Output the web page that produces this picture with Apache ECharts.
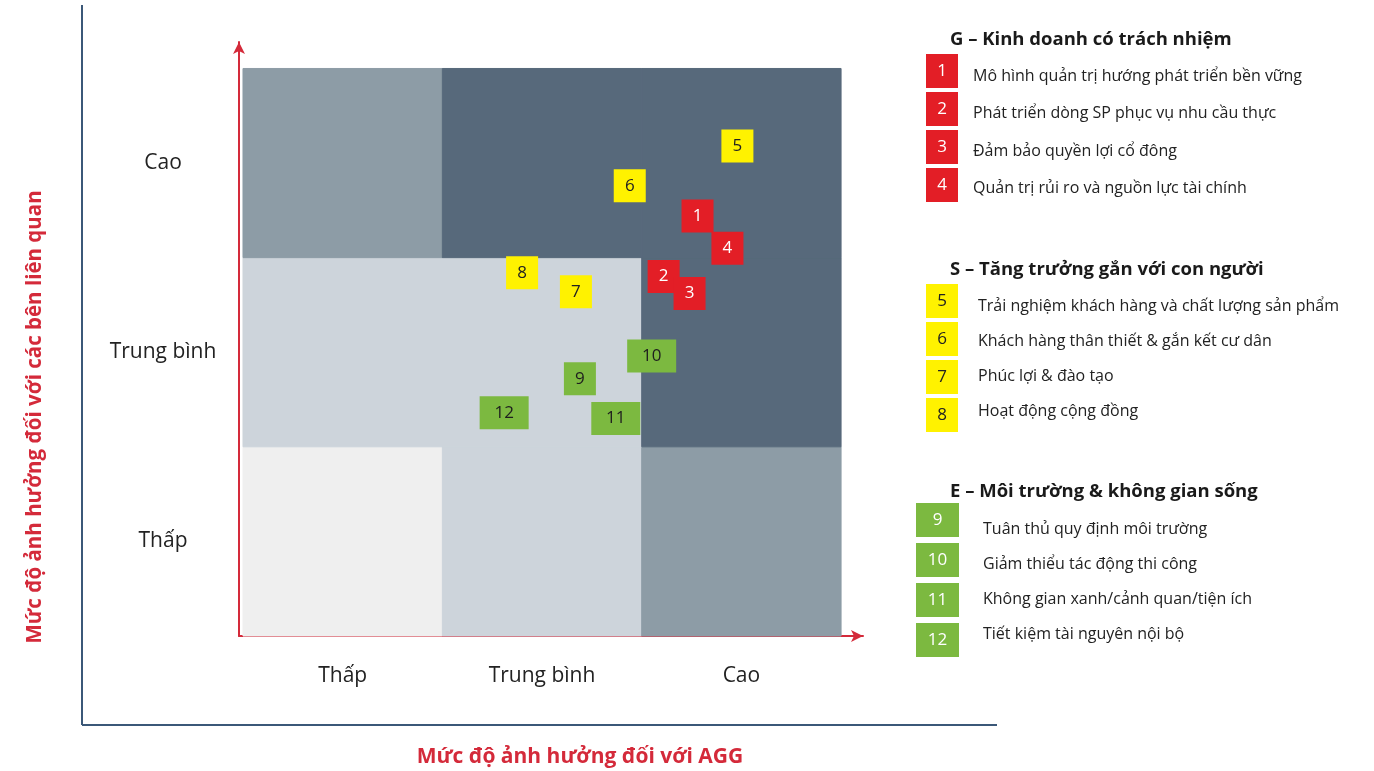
<!DOCTYPE html>
<html>
<head>
<meta charset="utf-8">
<script src="https://cdn.jsdelivr.net/npm/echarts@6/dist/echarts.min.js"></script>
<style>
html,body{margin:0;padding:0;background:#fff;}
#c{width:1374px;height:771px;}
</style>
</head>
<body>
<div id="c"></div>
<script>
// ---- data ----
const levelLabels = ['Thấp', 'Trung bình', 'Cao'];
const xTitle = 'Mức độ ảnh hưởng đối với AGG';
const yTitle = 'Mức độ ảnh hưởng đối với các bên liên quan';
const groupTitles = ['G – Kinh doanh có trách nhiệm', 'S – Tăng trưởng gắn với con người', 'E – Môi trường & không gian sống'];
const itemIds = ['1','2','3','4','5','6','7','8','9','10','11','12'];
const itemNames = [
  'Mô hình quản trị hướng phát triển bền vững',
  'Phát triển dòng SP phục vụ nhu cầu thực',
  'Đảm bảo quyền lợi cổ đông',
  'Quản trị rủi ro và nguồn lực tài chính',
  'Trải nghiệm khách hàng và chất lượng sản phẩm',
  'Khách hàng thân thiết & gắn kết cư dân',
  'Phúc lợi & đào tạo',
  'Hoạt động cộng đồng',
  'Tuân thủ quy định môi trường',
  'Giảm thiểu tác động thi công',
  'Không gian xanh/cảnh quan/tiện ích',
  'Tiết kiệm tài nguyên nội bộ'
];
const itemGroup = [0,0,0,0,1,1,1,1,2,2,2,2];
// impact on AGG (x) and on stakeholders (y), scale 0..3
const impactAGG = [2.28, 2.11, 2.24, 2.43, 2.48, 1.94, 1.67, 1.40, 1.69, 2.05, 1.87, 1.31];
const impactStake = [2.22, 1.90, 1.81, 2.05, 2.59, 2.38, 1.82, 1.92, 1.36, 1.48, 1.15, 1.18];
// zone level per cell: rows from bottom (stakeholder low->high), cols AGG low->high
const zoneLevel = [
  [0, 1, 2],
  [1, 1, 3],
  [2, 3, 3]
];

// ---- styles ----
const zoneColors = ['#efefef', '#cdd4db', '#8d9ca6', '#57697b'];
const groupColors = ['#e31e26', '#fff200', '#7cb940'];
const boxTextColorPlot = ['#ffffff', '#222222', '#1e1e1e'];
const boxTextColorLegend = ['#ffffff', '#222222', '#ffffff'];
const red = '#d42a3a';
const FONT = '"Open Sans", "Noto Sans", sans-serif';

const chart = echarts.init(document.getElementById('c'));

const areas = [];
for (let r = 0; r < 3; r++) {
  for (let c = 0; c < 3; c++) {
    const col = zoneColors[zoneLevel[r][c]];
    areas.push([
      { xAxis: c, yAxis: r, itemStyle: { color: col, borderColor: col, borderWidth: 1, opacity: 1 } },
      { xAxis: c + 1, yAxis: r + 1 }
    ]);
  }
}

const points = itemIds.map((id, i) => ({
  value: [impactAGG[i], impactStake[i]],
  name: id,
  symbolSize: id.length > 1 ? [49, 33] : [32, 33],
  itemStyle: { color: groupColors[itemGroup[i]], opacity: 1 },
  label: { color: boxTextColorPlot[itemGroup[i]] }
}));

// ---- legend graphics ----
const headerY = [40, 270, 492];
const firstBoxY = [71, 301, 520];
const boxStep = [38, 38, 40];
const firstTextY = [76, 306, 529];
const textStep = [37.5, 35, 35];
const boxX = [926, 926, 916];
const boxW = [32, 32, 43];
const textX = [973, 978, 983];
const graphics = [];
groupTitles.forEach((t, g) => {
  graphics.push({
    type: 'text', x: 950, y: headerY[g],
    style: { text: t, font: 'bold 18.5px ' + FONT, fill: '#1a1a1a', verticalAlign: 'middle' }
  });
});
const rowIdx = [0, 0, 0];
itemIds.forEach((id, i) => {
  const g = itemGroup[i];
  const k = rowIdx[g]++;
  const cy = firstBoxY[g] + k * boxStep[g];
  graphics.push({
    type: 'rect', shape: { x: boxX[g], y: cy - 17, width: boxW[g], height: 34 },
    style: { fill: groupColors[g] }
  });
  graphics.push({
    type: 'text', x: boxX[g] + boxW[g] / 2, y: cy,
    style: { text: id, font: '500 17px ' + FONT, fill: boxTextColorLegend[g], align: 'center', verticalAlign: 'middle' }
  });
  graphics.push({
    type: 'text', x: textX[g], y: firstTextY[g] + k * textStep[g],
    style: { text: itemNames[i], font: '16px ' + FONT, fill: '#222', verticalAlign: 'middle' }
  });
});
// outer frame
graphics.push({ type: 'line', shape: { x1: 82, y1: 5, x2: 82, y2: 725 }, style: { stroke: '#3b5878', lineWidth: 2 } });
graphics.push({ type: 'line', shape: { x1: 82, y1: 725, x2: 997, y2: 725 }, style: { stroke: '#3b5878', lineWidth: 2 } });
// axis titles
graphics.push({
  type: 'text', x: 35, y: 417, rotation: Math.PI / 2,
  style: { text: yTitle, font: 'bold 20.5px ' + FONT, fill: red, align: 'center', verticalAlign: 'middle' }
});
graphics.push({
  type: 'text', x: 580, y: 757,
  style: { text: xTitle, font: 'bold 21px ' + FONT, fill: red, align: 'center', verticalAlign: 'middle' }
});

const labelFor = v => levelLabels[Math.floor(v)] || '';

chart.setOption({
  animation: false,
  backgroundColor: '#ffffff',
  grid: { left: 239, right: 511, top: 42, bottom: 135, containLabel: false },
  xAxis: {
    type: 'value', min: -0.02, max: 3.11,
    axisLine: { show: true, onZero: false, lineStyle: { color: red, width: 2 }, symbol: ['none', 'arrow'], symbolSize: [9, 12] },
    axisTick: { show: false },
    splitLine: { show: false },
    axisLabel: {
      customValues: [0.5, 1.5, 2.5], formatter: labelFor,
      fontFamily: FONT, fontSize: 21, color: '#222', margin: 30
    }
  },
  yAxis: {
    type: 'value', min: 0, max: 3.14,
    axisLine: { show: true, onZero: false, lineStyle: { color: red, width: 2 }, symbol: ['none', 'arrow'], symbolSize: [9, 12] },
    axisTick: { show: false },
    splitLine: { show: false },
    axisLabel: {
      customValues: [0.5, 1.5, 2.5], formatter: labelFor,
      fontFamily: FONT, fontSize: 21, color: '#222', margin: 76, align: 'center'
    }
  },
  series: [
    {
      type: 'scatter', data: [], z: 1,
      markArea: { silent: true, data: areas, label: { show: false } }
    },
    {
      type: 'scatter', z: 5, symbol: 'rect',
      data: points,
      emphasis: { disabled: true },
      label: { show: true, position: 'inside', formatter: '{b}', fontFamily: FONT, fontSize: 17, fontWeight: 500 }
    }
  ],
  graphic: graphics
});
</script>
</body>
</html>
